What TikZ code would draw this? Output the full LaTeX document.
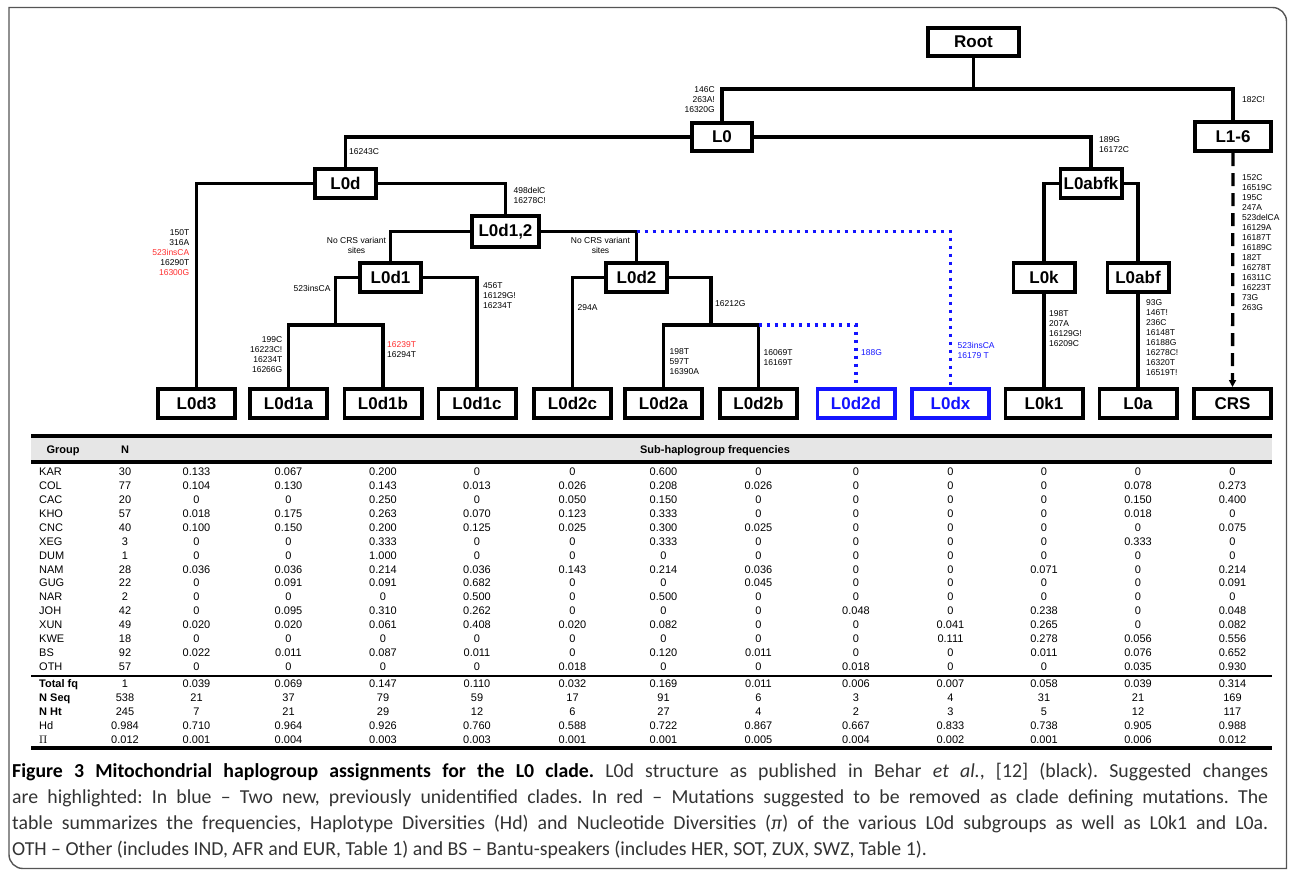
\documentclass[tikz,border=0pt]{standalone}
\usepackage{fontspec}
\setmainfont{Liberation Sans}
\newfontfamily\capfont{Carlito}
\usetikzlibrary{arrows.meta}
\definecolor{azul}{RGB}{20,20,255}
\definecolor{rojo}{RGB}{255,45,45}
\definecolor{gristabla}{RGB}{230,230,230}
\definecolor{marco}{RGB}{85,85,85}

\begin{document}
\begin{tikzpicture}[x=1pt, y=-1pt,
    caja/.style={draw, line width=3.6pt, fill=white, inner sep=1pt,
      font=\fontsize{17}{17}\selectfont\bfseries,
      minimum width=61.4pt, minimum height=29.4pt},
    hoja/.style={caja, minimum width=77.4pt},
    nueva/.style={hoja, draw=azul, text=azul},
    rama/.style={line width=3.3pt},
    rama nueva/.style={rama, azul, dash pattern=on 3.3pt off 4.7pt},
    mut/.style={inner sep=0pt, font=\fontsize{8.5}{10}\selectfont},
    celda/.style={inner sep=0pt, anchor=base, font=\fontsize{11}{13}\selectfont},
    negrita/.style={font=\fontsize{11}{13}\selectfont\bfseries},
    regla/.style={line width=3.6pt}]
    \useasboundingbox (0,0) rectangle (1290,873);

    % Marco
    \draw[marco, line width=1.4pt] (9,7.5) -- (1100,7.5) [rounded corners=14pt] -- (1286.5,7.5) -- (1286.5,400) [sharp corners] -- (1286.5,868.5) -- (200,868.5) [rounded corners=14pt] -- (9,868.5) -- (9,400) [sharp corners] -- cycle;

    % Nodos internos
    \node[caja, minimum width=91.4pt, minimum height=28.4pt] (root) at (973.5,42) {Root};
    \node[caja, minimum width=60.4pt, minimum height=28.4pt] (L0) at (722,137) {L0};
    \node[caja, minimum width=76.4pt] (L16) at (1233,136.5) {L1-6};
    \node[caja] (L0d) at (345.5,183.5) {L0d};
    \node[caja] (L0abfk) at (1091,183.5) {L0abfk};
    \node[caja, minimum width=67.4pt, minimum height=31.4pt] (L0d12) at (505.5,231.5) {L0d1,2};
    \node[caja] (L0d1) at (390.5,277.5) {L0d1};
    \node[caja] (L0d2) at (636.5,277.5) {L0d2};
    \node[caja] (L0k) at (1044,277.5) {L0k};
    \node[caja] (L0abf) at (1138,277.5) {L0abf};

    % Hojas
    \node[hoja] (L0d3) at (196.5,403.5) {L0d3};
    \node[hoja] (L0d1a) at (288.5,403.5) {L0d1a};
    \node[hoja] (L0d1b) at (383,403.5) {L0d1b};
    \node[hoja] (L0d1c) at (477,403.5) {L0d1c};
    \node[hoja] (L0d2c) at (572.5,403.5) {L0d2c};
    \node[hoja] (L0d2a) at (663.5,403.5) {L0d2a};
    \node[hoja] (L0d2b) at (758.5,403.5) {L0d2b};
    \node[nueva] (L0d2d) at (856,403.5) {L0d2d};
    \node[nueva] (L0dx) at (950.5,403.5) {L0dx};
    \node[hoja] (L0k1) at (1044,403.5) {L0k1};
    \node[hoja] (L0a) at (1138,403.5) {L0a};
    \node[hoja] (CRS) at (1232.5,403.5) {CRS};

    % Ramas
    \coordinate (b0) at (973.5,89);
    \coordinate (sub1) at (335.75,325);
    \coordinate (sub2) at (711,325);
    \draw[rama] (root.south) -- (b0);
    \draw[rama] (L0.north) |- (b0) -| (L16.north);
    \draw[rama] (L0d.north) |- (L0.west);
    \draw[rama] (L0.east) -| (L0abfk.north);
    \draw[rama] (L0d.west) -| (L0d3.north);
    \draw[rama] (L0d.east) -| (L0d12.north);
    \draw[rama] (L0d12.west) -| (L0d1.north);
    \draw[rama] (L0d12.east) -| (L0d2.north);
    \draw[rama] (L0d1.west) -| (sub1);
    \draw[rama] (L0d1a.north) |- (sub1) -| (L0d1b.north);
    \draw[rama] (L0d1.east) -| (L0d1c.north);
    \draw[rama] (L0d2.west) -| (L0d2c.north);
    \draw[rama] (L0d2.east) -| (sub2);
    \draw[rama] (L0d2a.north) |- (sub2) -| (L0d2b.north);
    \draw[rama] (L0abfk.west) -| (L0k.north);
    \draw[rama] (L0abfk.east) -| (L0abf.north);
    \draw[rama] (L0k.south) -- (L0k1.north);
    \draw[rama] (L0abf.south) -- (L0a.north);
    \draw[rama, dash pattern=on 13pt off 7pt, -{Triangle[length=7pt,width=7pt]}] (L16.south) -- (CRS.north);

    % Clados nuevos (azul)
    \draw[rama nueva] (L0d2.north |- L0d12.east) -| (L0dx.north);
    \draw[rama nueva] (L0d2b.north |- sub2) -| (L0d2d.north);

    % Mutaciones
    \node[mut, anchor=east, align=right] (mL0) at (715,100) {146C\\263A!\\16320G};
    \node[mut, anchor=west] (mL16) at (1242,100) {182C!};
    \node[mut, anchor=west, align=left] (mCRS) at (1242,243) {152C\\16519C\\195C\\247A\\523delCA\\16129A\\16187T\\16189C\\182T\\16278T\\16311C\\16223T\\73G\\263G};
    \node[mut, anchor=west] (mL0d) at (349,152) {16243C};
    \node[mut, anchor=west, align=left] (mL0abfk) at (1099,145) {189G\\16172C};
    \node[mut, anchor=east, align=right] (mL0d3) at (189.5,252.5) {150T\\316A\\\textcolor{rojo}{523insCA}\\16290T\\\textcolor{rojo}{16300G}};
    \node[mut, anchor=west, align=left] (mL0d12) at (513.5,195) {498delC\\16278C!};
    \node[mut, align=center] (mL0d1) at (356.5,245) {No CRS variant\\sites};
    \node[mut, align=center] (mL0d2) at (600.5,245) {No CRS variant\\sites};
    \node[mut, anchor=east] (mL0d1ab) at (330.75,288) {523insCA};
    \node[mut, anchor=west, align=left] (mL0d1c) at (483,296) {456T\\16129G!\\16234T};
    \node[mut, anchor=east, align=right] (mL0d1a) at (282.5,355) {199C\\16223C!\\16234T\\16266G};
    \node[mut, anchor=west, align=left] (mL0d1b) at (387,349.5) {\textcolor{rojo}{16239T}\\16294T};
    \node[mut, anchor=west] (mL0d2c) at (577.5,308) {294A};
    \node[mut, anchor=west] (mL0d2ab) at (715,304) {16212G};
    \node[mut, anchor=west, align=left] (mL0d2a) at (669.5,362) {198T\\597T\\16390A};
    \node[mut, anchor=west, align=left] (mL0d2b) at (763.5,357.5) {16069T\\16169T};
    \node[mut, anchor=west, text=azul] (mL0d2d) at (861,353) {188G};
    \node[mut, anchor=west, align=left, text=azul] (mL0dx) at (957.5,350.5) {523insCA\\16179 T};
    \node[mut, anchor=west, align=left] (mL0k1) at (1049,329) {198T\\207A\\16129G!\\16209C};
    \node[mut, anchor=west, align=left] (mL0a) at (1146,338) {93G\\146T!\\236C\\16148T\\16188G\\16278C!\\16320T\\16519T!};

    % Tabla: cabecera y reglas
    \fill[gristabla] (31,436) rectangle (1272,462);
    \draw[regla] (31,436) -- (1272,436);
    \draw[regla] (31,462) -- (1272,462);
    \draw[line width=2pt] (31,676) -- (1272,676);
    \draw[regla] (31,748) -- (1272,748);
    \node[celda, negrita] (hgrupo) at (63,453) {Group};
    \node[celda, negrita] (hn) at (125,453) {N};
    \node[celda, negrita] (hsub) at (715,453) {Sub-haplogroup frequencies};

    % Columnas bajo cada hoja
    \foreach \h [count=\j] in {L0d3,L0d1a,L0d1b,L0d1c,L0d2c,L0d2a,L0d2b,L0d2d,L0dx,L0k1,L0a,CRS}
        \coordinate (col\j) at (\h.south);

    % Frecuencias por grupo
    \foreach \g/\nn/\vals [count=\i] in {
        KAR/30/{0.133,0.067,0.200,0,0,0.600,0,0,0,0,0,0},
        COL/77/{0.104,0.130,0.143,0.013,0.026,0.208,0.026,0,0,0,0.078,0.273},
        CAC/20/{0,0,0.250,0,0.050,0.150,0,0,0,0,0.150,0.400},
        KHO/57/{0.018,0.175,0.263,0.070,0.123,0.333,0,0,0,0,0.018,0},
        CNC/40/{0.100,0.150,0.200,0.125,0.025,0.300,0.025,0,0,0,0,0.075},
        XEG/3/{0,0,0.333,0,0,0.333,0,0,0,0,0.333,0},
        DUM/1/{0,0,1.000,0,0,0,0,0,0,0,0,0},
        NAM/28/{0.036,0.036,0.214,0.036,0.143,0.214,0.036,0,0,0.071,0,0.214},
        GUG/22/{0,0.091,0.091,0.682,0,0,0.045,0,0,0,0,0.091},
        NAR/2/{0,0,0,0.500,0,0.500,0,0,0,0,0,0},
        JOH/42/{0,0.095,0.310,0.262,0,0,0,0.048,0,0.238,0,0.048},
        XUN/49/{0.020,0.020,0.061,0.408,0.020,0.082,0,0,0.041,0.265,0,0.082},
        KWE/18/{0,0,0,0,0,0,0,0,0.111,0.278,0.056,0.556},
        BS/92/{0.022,0.011,0.087,0.011,0,0.120,0.011,0,0,0.011,0.076,0.652},
        OTH/57/{0,0,0,0,0.018,0,0,0.018,0,0,0.035,0.930}}{
        \pgfmathsetmacro{\yb}{475.7+13.9*(\i-1)}
        \node[celda, anchor=base west] (fila\i) at (39,\yb) {\g};
        \node[celda] (fila\i-n) at (125,\yb) {\nn};
        \foreach \v [count=\j] in \vals
            \node[celda] (fila\i-\j) at (col\j |- 0,\yb) {\v};
    }

    % Resumen
    \foreach \g/\nn/\vals [count=\i] in {
        {\textbf{Total fq}}/1/{0.039,0.069,0.147,0.110,0.032,0.169,0.011,0.006,0.007,0.058,0.039,0.314},
        {\textbf{N Seq}}/538/{21,37,79,59,17,91,6,3,4,31,21,169},
        {\textbf{N Ht}}/245/{7,21,29,12,6,27,4,2,3,5,12,117},
        Hd/0.984/{0.710,0.964,0.926,0.760,0.588,0.722,0.867,0.667,0.833,0.738,0.905,0.988},
        {$\Pi$}/0.012/{0.001,0.004,0.003,0.003,0.001,0.001,0.005,0.004,0.002,0.001,0.006,0.012}}{
        \pgfmathsetmacro{\yb}{687.3+13.95*(\i-1)}
        \node[celda, anchor=base west] (res\i) at (39,\yb) {\g};
        \node[celda] (res\i-n) at (125,\yb) {\nn};
        \foreach \v [count=\j] in \vals
            \node[celda] (res\i-\j) at (col\j |- 0,\yb) {\v};
    }

    % Leyenda
    \node[anchor=north west, inner sep=0pt, text width=1256pt, align=justify,
        font=\capfont\fontsize{19.8}{26}\selectfont\frenchspacing, text=black!80] (leyenda) at (12,763)
        {\textbf{\color{black}Figure 3 Mitochondrial haplogroup assignments for the L0 clade.} L0d structure as published in Behar \textit{et al.}, [12] (black). Suggested changes\linebreak
        are highlighted: In blue – Two new, previously unidentified clades. In red – Mutations suggested to be removed as clade defining mutations. The\linebreak
        table summarizes the frequencies, Haplotype Diversities (Hd) and Nucleotide Diversities (\textit{π}) of the various L0d subgroups as well as L0k1 and L0a.\linebreak
        OTH – Other (includes IND, AFR and EUR, Table 1) and BS – Bantu-speakers (includes HER, SOT, ZUX, SWZ, Table 1).};
\end{tikzpicture}
\end{document}
